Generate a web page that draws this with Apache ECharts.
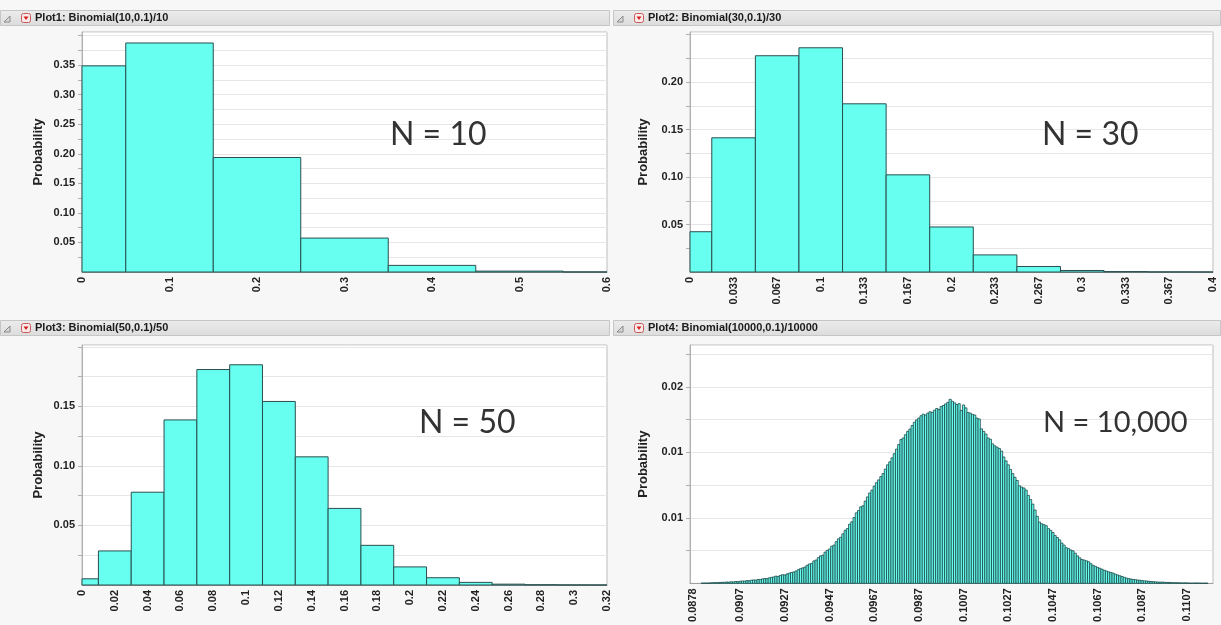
<!DOCTYPE html>
<html><head><meta charset="utf-8">
<script src="https://cdn.jsdelivr.net/npm/echarts@6/dist/echarts.min.js"></script>
<style>html,body{margin:0;padding:0;background:#f7f7f7;}#c{width:1221px;height:625px;}</style>
</head><body><div id="c"></div>
<script>
// ---------- data ----------
const titles = ['Plot1: Binomial(10,0.1)/10','Plot2: Binomial(30,0.1)/30','Plot3: Binomial(50,0.1)/50','Plot4: Binomial(10000,0.1)/10000'];
const notes = ['N = 10','N = 30','N = 50','N = 10,000'];

// Plot1: bins centred on k/10
const x1 = [0, 0.1, 0.2, 0.3, 0.4, 0.5, 0.6];
const p1 = [0.3487, 0.3874, 0.1937, 0.0574, 0.0112, 0.0015, 0.0001];
const x1Ticks = [0, 0.1, 0.2, 0.3, 0.4, 0.5, 0.6];
const x1Labels = ['0','0.1','0.2','0.3','0.4','0.5','0.6'];
const y1Ticks = [0.05,0.10,0.15,0.20,0.25,0.30,0.35];
const y1Labels = ['0.05','0.10','0.15','0.20','0.25','0.30','0.35'];

// Plot2: bins centred on k/30
const k2 = [0,1,2,3,4,5,6,7,8,9,10,11,12];
const p2 = [0.0424, 0.1413, 0.2277, 0.2361, 0.1771, 0.1023, 0.0474, 0.0180, 0.0058, 0.0016, 0.0004, 0.0001, 0.00002];
const x2Labels = ['0','0.033','0.067','0.1','0.133','0.167','0.2','0.233','0.267','0.3','0.333','0.367','0.4'];
const y2Ticks = [0.05,0.10,0.15,0.20];
const y2Labels = ['0.05','0.10','0.15','0.20'];

// Plot3: bins centred on k/50
const k3 = [0,1,2,3,4,5,6,7,8,9,10,11,12,13,14,15,16];
const p3 = [0.0052, 0.0286, 0.0779, 0.1386, 0.1809, 0.1849, 0.1541, 0.1076, 0.0643, 0.0333, 0.0152, 0.0061, 0.0022, 0.0007, 0.0002, 0.00005, 0.00001];
const x3Labels = ['0','0.02','0.04','0.06','0.08','0.1','0.12','0.14','0.16','0.18','0.2','0.22','0.24','0.26','0.28','0.3','0.32'];
const y3Ticks = [0.05,0.10,0.15];
const y3Labels = ['0.05','0.10','0.15'];

// Plot4: bins centred on k/10000, k starting at 890
const k4Start = 890;
const p4 = [
0.00002,0.00003,0.00002,0.00003,0.00004,
0.00005,0.00006,0.00005,0.00007,0.00008,0.00008,0.00010,0.00009,0.00012,0.00011,
0.00014,0.00013,0.00016,0.00018,0.00017,0.00021,0.00020,0.00024,0.00026,0.00025,
0.00030,0.00029,0.00034,0.00037,0.00036,0.00042,0.00046,0.00049,0.00055,0.00053,
0.00061,0.00066,0.00064,0.00072,0.00078,0.00083,0.00087,0.00094,0.00104,0.00112,
0.00118,0.00125,0.00138,0.00148,0.00152,0.00171,0.00178,0.00196,0.00210,0.00215,
0.00238,0.00252,0.00262,0.00284,0.00292,0.00318,0.00340,0.00352,0.00378,0.00405,
0.00418,0.00452,0.00470,0.00502,0.00538,0.00556,0.00584,0.00592,0.00628,0.00660,
0.00690,0.00712,0.00742,0.00768,0.00790,0.00815,0.00838,0.00872,0.00905,0.00928,
0.00958,0.00990,0.01025,0.01060,0.01098,0.01110,0.01135,0.01160,0.01178,0.01205,
0.01230,0.01248,0.01262,0.01280,0.01292,0.01285,0.01300,0.01310,0.01305,0.01322,
0.01335,0.01328,0.01350,0.01358,0.01370,0.01382,0.01405,0.01390,0.01378,0.01365,
0.01372,0.01320,0.01362,0.01340,0.01305,0.01300,0.01290,0.01285,0.01262,0.01255,
0.01180,0.01160,0.01140,0.01110,0.01100,0.01065,0.01050,0.01040,0.01030,0.01010,
0.00965,0.00935,0.00905,0.00870,0.00838,0.00810,0.00785,0.00745,0.00735,0.00728,
0.00712,0.00672,0.00640,0.00605,0.00560,0.00512,0.00468,0.00455,0.00448,0.00440,
0.00418,0.00405,0.00388,0.00365,0.00350,0.00332,0.00308,0.00292,0.00272,0.00265,
0.00255,0.00248,0.00230,0.00210,0.00195,0.00182,0.00178,0.00172,0.00165,0.00150,
0.00138,0.00130,0.00122,0.00115,0.00108,0.00100,0.00094,0.00088,0.00082,0.00078,
0.00070,0.00064,0.00058,0.00052,0.00046,0.00040,0.00036,0.00033,0.00030,0.00028,
0.00025,0.00024,0.00021,0.00019,0.00018,0.00016,0.00014,0.00013,0.00011,0.00010,
0.00009,0.00010,0.00008,0.00007,0.00007,0.00006,0.00005,0.00005,0.00004,0.00004,
0.00003,0.00004,0.00003,0.00002,0.00002,0.00002,0.00003,0.00002,0.00002,0.00001,
0.00002,0.00001
];
const x4Ticks = [0.0886,0.0907,0.0927,0.0947,0.0967,0.0987,0.1007,0.1027,0.1047,0.1067,0.1087,0.1107];
const x4Labels = ['0.0878','0.0907','0.0927','0.0947','0.0967','0.0987','0.1007','0.1027','0.1047','0.1067','0.1087','0.1107'];
const y4Ticks = [0.005,0.010,0.015];
const y4Labels = ['0.01','0.01','0.02'];

// ---------- layout / style ----------
const FILL = '#66fff0', EDGE = '#2a4f4f';
const grids = [
  {left:82, top:32, width:525, height:240},
  {left:690, top:32, width:523, height:240},
  {left:82, top:345, width:525, height:240},
  {left:690, top:345, width:523, height:240}
];
const nameGaps = [37, 40, 37, 40];
const headers = [{x:0,y:10},{x:613,y:10},{x:0,y:320},{x:613,y:320}];

function lookup(ticks, labels){
  return function(v){
    for (let i=0;i<ticks.length;i++) if (Math.abs(v-ticks[i]) < 1e-9) return labels[i];
    return '';
  };
}
function hist(width, fill, stroke, lw){
  return function(params, api){
    const x = api.value(0), y = api.value(1);
    const a = api.coord([x - width/2, y]);
    const b = api.coord([x + width/2, 0]);
    const cs = params.coordSys;
    const r = echarts.graphic.clipRectByRect(
      {x:a[0], y:a[1], width:b[0]-a[0], height:b[1]-a[1]},
      {x:cs.x, y:cs.y, width:cs.width, height:cs.height});
    if (!r) return;
    return {type:'rect', shape:r, style:{fill:fill, stroke:stroke, lineWidth:lw}};
  };
}
const labFont = {fontFamily:'Liberation Sans, Arial, sans-serif', fontWeight:'bold', fontSize:11, color:'#222'};

function xAxis(i, min, max, ticks, labels){
  return {type:'value', gridIndex:i, min:min, max:max,
    axisLine:{show:true, lineStyle:{color:'#a0a0a0'}},
    axisTick:{show:false}, splitLine:{show:false},
    axisLabel:Object.assign({customValues:ticks, rotate:90, margin:5, formatter:lookup(ticks, labels), hideOverlap:false}, labFont)};
}
function yAxis(i, max, interval, ticks, labels){
  return {type:'value', gridIndex:i, min:0, max:max, interval:interval,
    name:'Probability', nameLocation:'middle', nameGap:nameGaps[i], nameRotate:90,
    nameTextStyle:{fontFamily:'Liberation Sans, Arial, sans-serif', fontWeight:'bold', fontSize:13, color:'#222'},
    axisLine:{show:true, lineStyle:{color:'#b0b0b0'}},
    axisTick:{show:true, length:4, lineStyle:{color:'#b0b0b0'}},
    splitLine:{show:true, lineStyle:{color:'#e6e6e6'}},
    axisLabel:Object.assign({margin:7, formatter:lookup(ticks, labels), showMinLabel:false, showMaxLabel:false}, labFont)};
}

const data1 = x1.map((x,i)=>[x, p1[i]]);
const data2 = k2.map((k,i)=>[k/30, p2[i]]);
const data3 = k3.map((k,i)=>[k/50, p3[i]]);
const data4 = p4.map((p,i)=>[(k4Start+i)/10000, p]);
const x2Ticks = k2.map(k=>k/30);
const x3Ticks = k3.map(k=>k/50);

// header graphics
const graphic = [];
headers.forEach((h,i)=>{
  graphic.push({type:'rect', shape:{x:h.x+0.5, y:h.y+0.5, width:(i%2?607:609), height:15},
    style:{fill:new echarts.graphic.LinearGradient(0,0,0,1,[{offset:0,color:'#ececec'},{offset:1,color:'#dcdcdc'}]), stroke:'#c6c6c6', lineWidth:1}, z:10});
  graphic.push({type:'polygon', shape:{points:[[h.x+4,h.y+12],[h.x+10,h.y+6],[h.x+10,h.y+12]]},
    style:{fill:'#d8d8d8', stroke:'#8a8a8a', lineWidth:1}, z:11});
  graphic.push({type:'rect', shape:{x:h.x+21.5, y:h.y+3.5, width:9, height:9, r:2},
    style:{fill:'#fbeaea', stroke:'#c85a5a', lineWidth:1}, z:11});
  graphic.push({type:'polygon', shape:{points:[[h.x+23.5,h.y+6.5],[h.x+28.5,h.y+6.5],[h.x+26,h.y+10]]},
    style:{fill:'#d42020'}, z:12});
  graphic.push({type:'text', x:h.x+35, y:h.y+8, style:{text:titles[i], fill:'#1a1a1a',
    font:'bold 11px "Liberation Sans", Arial, sans-serif', verticalAlign:'middle', align:'left'}, z:12});
});
const notePos = [[390,135],[1042,135],[419,423],[1043,423]];
const noteSize = [32, 32, 32, 29];
notePos.forEach((p,i)=>{
  graphic.push({type:'text', x:p[0], y:p[1], style:{text:notes[i], fill:'#333',
    font:noteSize[i]+'px Lato, "Open Sans", sans-serif', verticalAlign:'middle', align:'left'}, z:20});
});

const chart = echarts.init(document.getElementById('c'), null, {renderer:'canvas'});
chart.setOption({
  backgroundColor:'#f7f7f7',
  animation:false,
  grid: grids.map(g=>Object.assign({show:true, backgroundColor:'#ffffff', borderColor:'#bdbdbd', borderWidth:1, containLabel:false}, g)),
  xAxis:[
    xAxis(0, 0, 0.6, x1Ticks, x1Labels),
    xAxis(1, 0, 0.4, x2Ticks, x2Labels),
    xAxis(2, 0, 0.32, x3Ticks, x3Labels),
    xAxis(3, 0.08845, 0.11187, x4Ticks, x4Labels)
  ],
  yAxis:[
    yAxis(0, 0.406, 0.025, y1Ticks, y1Labels),
    yAxis(1, 0.2527, 0.025, y2Ticks, y2Labels),
    yAxis(2, 0.2015, 0.025, y3Ticks, y3Labels),
    yAxis(3, 0.0182, 0.0025, y4Ticks, y4Labels)
  ],
  series:[
    {type:'custom', xAxisIndex:0, yAxisIndex:0, data:data1, encode:{x:0,y:1}, renderItem:hist(0.1, FILL, EDGE, 1)},
    {type:'custom', xAxisIndex:1, yAxisIndex:1, data:data2, encode:{x:0,y:1}, renderItem:hist(1/30, FILL, EDGE, 1)},
    {type:'custom', xAxisIndex:2, yAxisIndex:2, data:data3, encode:{x:0,y:1}, renderItem:hist(0.02, FILL, EDGE, 1)},
    {type:'custom', xAxisIndex:3, yAxisIndex:3, data:data4, encode:{x:0,y:1}, renderItem:hist(0.0001, FILL, '#1c4747', 0.8)}
  ],
  graphic:graphic
});
</script></body></html>
